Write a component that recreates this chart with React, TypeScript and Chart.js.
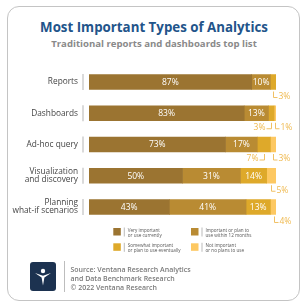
import React, { useEffect, useRef } from "react";
import { Chart, registerables } from "chart.js";
Chart.register(...registerables);

const categoryLabels: string[][] = [
  ["Reports"],
  ["Dashboards"],
  ["Ad-hoc query"],
  ["Visualization", "and discovery"],
  ["Planning", "what-if scenarios"],
];
const veryImportant = [87, 83, 73, 50, 43];
const importantWithin12 = [10, 13, 17, 31, 41];
const somewhatImportant = [3, 3, 7, 14, 13];
const notImportant = [0, 1, 3, 5, 4];
const seriesNames: string[][] = [
  ["Very important", "or use currently"],
  ["Important or plan to", "use within 12 months"],
  ["Somewhat important", "or plan to use eventually"],
  ["Not important", "or no plans to use"],
];
const seriesColors = ["#9b7431", "#b98b33", "#dea92a", "#fdc862"];
const titleText = "Most Important Types of Analytics";
const subtitleText = "Traditional reports and dashboards top list";
const sourceLines = [
  "Source: Ventana Research Analytics",
  "and Data Benchmark Research",
  "\u00a9 2022 Ventana Research",
];

const FONT = "'Open Sans', 'Noto Sans', sans-serif";

const decorPlugin = {
  id: "decor",
  afterDatasetsDraw(chart: any) {
    const ctx = chart.ctx;
    const yScale = chart.scales.y;
    ctx.save();
    ctx.strokeStyle = "#c2c2c2";
    ctx.lineWidth = 1.2;
    for (let j = 0; j < categoryLabels.length; j++) {
      const y = yScale.getPixelForValue(j);
      ctx.beginPath();
      ctx.moveTo(83, y - 8);
      ctx.lineTo(83, y + 8);
      ctx.stroke();
    }
    ctx.restore();

    const nds = chart.data.datasets.length;
    for (let i = 0; i < nds; i++) {
      const meta = chart.getDatasetMeta(i);
      const data = chart.data.datasets[i].data as number[];
      meta.data.forEach((el: any, j: number) => {
        const v = data[j];
        if (!v) return;
        const p = el.getProps(["x", "y", "base", "height"], true);
        const cx = (p.x + p.base) / 2;
        ctx.save();
        if (v >= 10) {
          ctx.fillStyle = "#ffffff";
          ctx.font = `8.5px ${FONT}`;
          ctx.textAlign = "center";
          ctx.textBaseline = "middle";
          ctx.fillText(v + "%", cx, p.y + 0.5);
        } else {
          let later = false;
          for (let k = i + 1; k < nds; k++) {
            if ((chart.data.datasets[k].data as number[])[j]) later = true;
          }
          const bottom = p.y + p.height / 2;
          ctx.strokeStyle = "#f0c064";
          ctx.lineWidth = 1;
          ctx.fillStyle = "#efb94f";
          ctx.font = `8.5px ${FONT}`;
          ctx.textBaseline = "middle";
          const bx = Math.round(cx) + 0.5;
          ctx.beginPath();
          ctx.moveTo(bx, bottom + 2);
          ctx.lineTo(bx, bottom + 8);
          if (later) {
            ctx.lineTo(bx - 5, bottom + 8);
            ctx.stroke();
            ctx.textAlign = "right";
            ctx.fillText(v + "%", bx - 6, bottom + 7);
          } else {
            ctx.lineTo(bx + 4, bottom + 8);
            ctx.stroke();
            ctx.textAlign = "left";
            ctx.fillText(v + "%", bx + 5, bottom + 7);
          }
        }
        ctx.restore();
      });
    }

    const cols = [113.3, 191];
    const rows = [228, 243.3];
    ctx.save();
    for (let i = 0; i < seriesNames.length; i++) {
      const x = cols[i % 2];
      const y = rows[Math.floor(i / 2)];
      ctx.fillStyle = seriesColors[i];
      ctx.fillRect(x, y, 7.5, 7.5);
      ctx.strokeStyle = "#aaaaaa";
      ctx.lineWidth = 0.8;
      ctx.beginPath();
      ctx.moveTo(x + 11, y - 0.5);
      ctx.lineTo(x + 11, y + 8.5);
      ctx.stroke();
      ctx.fillStyle = "#555555";
      ctx.font = `4.6px ${FONT}`;
      ctx.textAlign = "left";
      ctx.textBaseline = "middle";
      ctx.fillText(seriesNames[i][0], x + 14.5, y + 2.2);
      ctx.fillText(seriesNames[i][1], x + 14.5, y + 7.2);
    }
    ctx.restore();
  },
};

function ChartCanvas() {
  const ref = useRef<HTMLCanvasElement>(null);
  useEffect(() => {
    if (!ref.current) return;
    const chart = new Chart(ref.current, {
      type: "bar",
      data: {
        labels: categoryLabels,
        datasets: [veryImportant, importantWithin12, somewhatImportant, notImportant].map((d, i) => ({
          label: seriesNames[i].join(" "),
          data: d,
          backgroundColor: seriesColors[i],
          borderWidth: 0,
          barThickness: 15,
        })),
      },
      options: {
        indexAxis: "y",
        responsive: false,
        animation: false,
        layout: { padding: { left: 8, right: 32, top: 66.4, bottom: 85.4 } },
        plugins: { legend: { display: false }, tooltip: { enabled: false }, title: { display: false } },
        scales: {
          x: { stacked: true, min: 0, max: 100, display: false },
          y: {
            stacked: true,
            grid: { display: false, drawTicks: false },
            border: { display: false },
            ticks: {
              color: "#444444",
              padding: 11,
              font: { family: FONT, size: 8.3, lineHeight: 0.95 },
            },
            afterFit(scale: any) {
              scale.width = 81;
            },
          },
        },
      } as any,
      plugins: [decorPlugin],
    });
    return () => chart.destroy();
  }, []);
  return (
    <canvas
      ref={ref}
      width={308}
      height={308}
      style={{ position: "absolute", left: 0, top: 0, width: 308, height: 308 }}
    />
  );
}

export default function App() {
  return (
    <div style={{ position: "absolute", left: 0, top: 0, width: 308, height: 308, background: "#fff", overflow: "hidden", fontFamily: FONT }}>
      <div
        style={{
          position: "absolute",
          left: 7,
          top: 6,
          width: 291,
          height: 293,
          border: "1.5px solid #c4c4c4",
          borderRadius: 12,
        }}
      />
      <div
        style={{
          position: "absolute",
          left: 0,
          width: 308,
          top: 18.5,
          textAlign: "center",
          fontSize: 13.3,
          fontWeight: 700,
          lineHeight: "16px",
          color: "#22548a",
          whiteSpace: "nowrap",
        }}
      >
        {titleText}
      </div>
      <div
        style={{
          position: "absolute",
          left: 0,
          width: 308,
          top: 38,
          textAlign: "center",
          fontSize: 9.6,
          fontWeight: 700,
          lineHeight: "12px",
          color: "#8a8a8a",
          whiteSpace: "nowrap",
        }}
      >
        {subtitleText}
      </div>
      <ChartCanvas />
      <svg style={{ position: "absolute", left: 30, top: 262 }} width={26} height={29} viewBox="0 0 26 29">
        <rect x={0} y={0} width={26} height={29} rx={3} fill="#1c3250" />
        <circle cx={13} cy={9} r={2.2} fill="#fff" />
        <path d="M5 11 L11.6 15.5 L13 23.5 L14.4 15.5 L21 11 L13 13.8 Z" fill="#fff" />
      </svg>
      <div style={{ position: "absolute", left: 64, top: 261, width: 1, height: 31, background: "#bdbdbd" }} />
      <div
        style={{
          position: "absolute",
          left: 70.5,
          top: 264.5,
          fontSize: 7,
          fontWeight: 600,
          lineHeight: "9.2px",
          color: "#7a7a7a",
          whiteSpace: "nowrap",
        }}
      >
        {sourceLines.map((l, i) => (
          <div key={i}>{l}</div>
        ))}
      </div>
    </div>
  );
}
